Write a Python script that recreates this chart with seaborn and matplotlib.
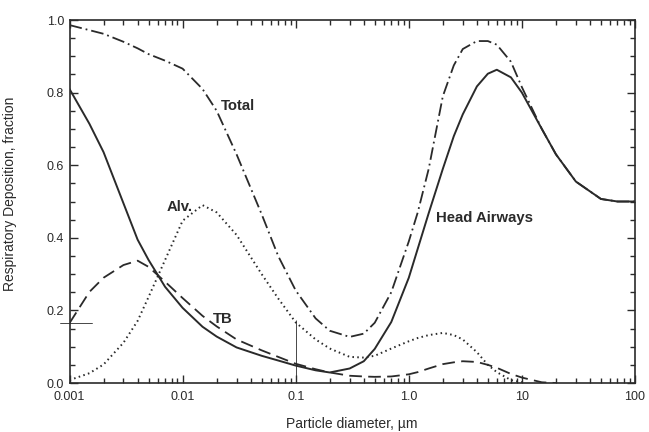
import numpy as np
import pandas as pd
import matplotlib
matplotlib.use('Agg')
import matplotlib.pyplot as plt
import seaborn as sns
from matplotlib.ticker import FixedLocator, LogLocator, NullFormatter, MultipleLocator

# particle diameter, um
dp = [0.001, 0.0015, 0.002, 0.003, 0.004, 0.005, 0.007, 0.01, 0.015, 0.02, 0.03,
      0.05, 0.07, 0.1, 0.15, 0.2, 0.3, 0.4, 0.5, 0.7, 1, 1.2, 1.5, 2, 2.5, 3, 4,
      5, 6, 8, 10, 15, 20, 30, 50, 70, 100]

total = [0.986, 0.972, 0.962, 0.94, 0.922, 0.906, 0.888, 0.866, 0.81, 0.75, 0.63,
         0.465, 0.35, 0.255, 0.178, 0.144, 0.127, 0.136, 0.166, 0.25, 0.39, 0.47,
         0.59, 0.79, 0.875, 0.92, 0.942, 0.942, 0.932, 0.885, 0.815, 0.70, 0.63,
         0.555, 0.507, 0.50, 0.50]

head = [0.81, 0.714, 0.636, 0.495, 0.395, 0.339, 0.265, 0.207, 0.155, 0.128, 0.098,
        0.075, 0.062, 0.048, 0.035, 0.029, 0.04, 0.06, 0.094, 0.168, 0.29, 0.37,
        0.468, 0.59, 0.68, 0.74, 0.817, 0.852, 0.863, 0.842, 0.80, 0.70, 0.63,
        0.555, 0.507, 0.50, 0.50]

tb = [0.165, 0.251, 0.29, 0.325, 0.337, 0.32, 0.279, 0.234, 0.185, 0.156, 0.12,
      0.09, 0.072, 0.053, 0.038, 0.029, 0.02, 0.018, 0.017, 0.018, 0.024, 0.03,
      0.04, 0.052, 0.057, 0.06, 0.058, 0.05, 0.042, 0.025, 0.015, 0.002, 0.0]

alv = [0.008, 0.027, 0.051, 0.111, 0.171, 0.237, 0.339, 0.447, 0.49, 0.47, 0.408,
       0.30, 0.233, 0.167, 0.12, 0.095, 0.072, 0.07, 0.075, 0.095, 0.115, 0.124,
       0.132, 0.138, 0.132, 0.12, 0.085, 0.05, 0.03, 0.008, 0.002]

xticks = [0.001, 0.01, 0.1, 1, 10, 100]
xticklabels = ['0.001', '0.01', '0.1', '1.0', '10', '100']
yticks = [0.0, 0.2, 0.4, 0.6, 0.8, 1.0]
yticklabels = ['0.0', '0.2', '0.4', '0.6', '0.8', '1.0']

labels = ['Total', 'Alv.', 'TB', 'Head Airways']
label_x = [0.0216, 0.0072, 0.0184, 1.73]
label_y = [0.763, 0.485, 0.176, 0.455]

# thin reference marks on the scan
marker_x = 0.1
marker_top = 0.174
cross_y = 0.165

sns.set_style('ticks')
plt.rcParams['font.family'] = ['Liberation Sans', 'DejaVu Sans']

ink = '#2a2a2a'
fig = plt.figure(figsize=(6.49, 4.32), dpi=100)
ax = fig.add_axes([0.1071, 0.1134, 0.8713, 0.8403])

sns.lineplot(x=dp, y=total, ax=ax, color=ink, lw=1.3,
             linestyle=(0, (7, 2.2, 1, 2.2)))
sns.lineplot(x=dp, y=head, ax=ax, color=ink, lw=1.4)
sns.lineplot(x=dp[:len(tb)], y=tb, ax=ax, color=ink, lw=1.3,
             linestyle=(0, (7, 3.5)))
sns.lineplot(x=dp[:len(alv)], y=alv, ax=ax, color=ink, lw=1.4,
             linestyle=(0, (0.8, 1.7)))

ax.vlines(marker_x, 0, marker_top, color=ink, lw=0.6)
ax.plot([-0.017, 0.04], [cross_y, cross_y], transform=ax.get_yaxis_transform(),
        color=ink, lw=0.6, clip_on=False)

for t, xx, yy in zip(labels, label_x, label_y):
    ax.text(xx, yy, t, ha='left', va='center', fontsize=10.7,
            fontweight='bold', color=ink)

ax.set_xscale('log')
ax.set_xlim(0.001, 100)
ax.set_ylim(0, 1.0)
ax.xaxis.set_major_locator(FixedLocator(xticks))
ax.set_xticklabels(xticklabels)
ax.xaxis.set_minor_locator(LogLocator(base=10, subs=np.arange(2, 10)))
ax.xaxis.set_minor_formatter(NullFormatter())
ax.set_yticks(yticks)
ax.set_yticklabels(yticklabels)
ax.yaxis.set_minor_locator(MultipleLocator(0.05))

ax.tick_params(which='both', direction='in', top=True, right=True,
               colors=ink, width=1.0)
ax.tick_params(which='major', length=6, labelsize=9, pad=4)
ax.tick_params(axis='x', which='major', pad=6)
ax.tick_params(which='minor', length=3.5)
for s in ax.spines.values():
    s.set_linewidth(1.2)
    s.set_color(ink)

ax.set_xlabel('Particle diameter, µm', fontsize=10, color=ink)
ax.set_ylabel('Respiratory Deposition, fraction', fontsize=10, color=ink)
ax.yaxis.set_label_coords(-0.093, 0.52)
ax.xaxis.set_label_coords(0.5, -0.095)

fig.savefig('out.png', dpi=100)
